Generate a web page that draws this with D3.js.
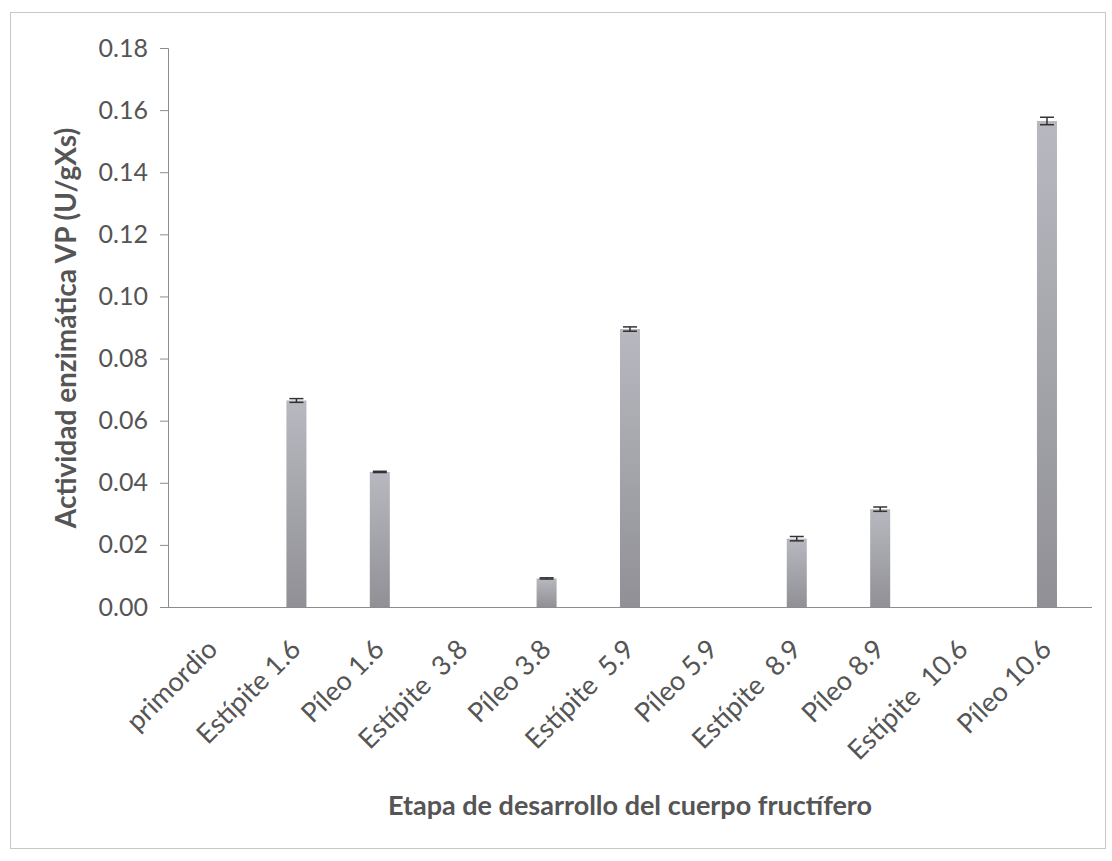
<!DOCTYPE html>
<html>
<head>
<meta charset="utf-8">
<script src="https://cdn.jsdelivr.net/npm/d3@7"></script>
<style>
  html, body { margin: 0; padding: 0; background: #ffffff; }
  svg { display: block; }
</style>
</head>
<body>
<svg id="chart" width="1112" height="861"></svg>
<script>
const categories = ["primordio", "Estípite 1.6", "Píleo 1.6", "Estípite  3.8", "Píleo 3.8", "Estípite  5.9", "Píleo 5.9", "Estípite  8.9", "Píleo 8.9", "Estípite  10.6", "Píleo 10.6"];
const values = [0, 0.0665, 0.0435, 0, 0.0092, 0.0895, 0, 0.0220, 0.0315, 0, 0.1565];
const errors = [0, 0.0006, 0.0002, 0, 0.0002, 0.0007, 0, 0.0007, 0.0007, 0, 0.0012];
const yTicks = [0, 0.02, 0.04, 0.06, 0.08, 0.10, 0.12, 0.14, 0.16, 0.18];
const yTitle = "Actividad enzimática VP (U/gXs)";
const xTitle = "Etapa de desarrollo del cuerpo fructífero";

const svg = d3.select("#chart");
const font = "Lato, 'Open Sans', sans-serif";

// outer frame
svg.append("rect").attr("x", 10.5).attr("y", 12.5).attr("width", 1095).attr("height", 836)
  .attr("fill", "#fff").attr("stroke", "#c8c8c8").attr("stroke-width", 1);

const plot = { left: 168, right: 1092, top: 48, bottom: 607 };

const x = d3.scaleBand().domain(categories).range([plot.left, plot.right]).paddingInner(0.76).paddingOuter(0.42);
const y = d3.scaleLinear().domain([0, 0.18]).range([plot.bottom, plot.top]);

const defs = svg.append("defs");
const grad = defs.append("linearGradient").attr("id", "barGrad").attr("x1", 0).attr("y1", 0).attr("x2", 0).attr("y2", 1);
grad.append("stop").attr("offset", "0%").attr("stop-color", "#b8b8c0");
grad.append("stop").attr("offset", "100%").attr("stop-color", "#909096");

// bars
svg.append("g").selectAll("rect").data(categories).join("rect")
  .attr("x", d => x(d))
  .attr("width", x.bandwidth())
  .attr("y", (d, i) => y(values[i]))
  .attr("height", (d, i) => y(0) - y(values[i]))
  .attr("fill", "url(#barGrad)");

// error bars
const eb = svg.append("g").attr("stroke", "#333").attr("stroke-width", 1.5);
categories.forEach((c, i) => {
  if (values[i] <= 0) return;
  const cx = x(c) + x.bandwidth() / 2;
  const y1 = y(values[i] + errors[i]), y2 = y(values[i] - errors[i]);
  eb.append("line").attr("x1", cx).attr("x2", cx).attr("y1", y1).attr("y2", y2);
  eb.append("line").attr("x1", cx - 7).attr("x2", cx + 7).attr("y1", y1).attr("y2", y1);
  eb.append("line").attr("x1", cx - 7).attr("x2", cx + 7).attr("y1", y2).attr("y2", y2);
});

// y axis
const yAxis = d3.axisLeft(y).tickValues(yTicks).tickFormat(d3.format(".2f")).tickSizeOuter(0).tickSize(8).tickPadding(12);
const gy = svg.append("g").attr("transform", `translate(${plot.left},0)`).call(yAxis);
gy.select(".domain").attr("stroke", "#8c8c8c");
gy.selectAll(".tick line").attr("stroke", "#8c8c8c");
gy.selectAll(".tick text").attr("fill", "#555").style("font-family", font).style("font-size", "25px");

// x axis
const xAxis = d3.axisBottom(x).tickSize(0).tickSizeOuter(0).tickPadding(10);
const gx = svg.append("g").attr("transform", `translate(0,${plot.bottom})`).call(xAxis);
gx.select(".domain").attr("stroke", "#8c8c8c").attr("d", `M${plot.left},0.5H${plot.right}`);
gx.selectAll(".tick text")
  .attr("fill", "#555")
  .style("font-family", font).style("font-size", "27px")
  .attr("text-anchor", "end")
  .attr("dx", 0).attr("dy", 0)
  .attr("transform", "translate(6,44) rotate(-45)")
  .attr("y", 0).attr("x", 0)
  .style("white-space", "pre");

// axis titles
svg.append("text").attr("transform", `translate(76,328) rotate(-90)`)
  .attr("text-anchor", "middle").attr("fill", "#555")
  .style("font-family", font).style("font-size", "28px").style("font-weight", "bold")
  .text(yTitle);
svg.append("text").attr("x", 630).attr("y", 815)
  .attr("text-anchor", "middle").attr("fill", "#555")
  .style("font-family", font).style("font-size", "27px").style("font-weight", "bold")
  .text(xTitle);
</script>
</body>
</html>
